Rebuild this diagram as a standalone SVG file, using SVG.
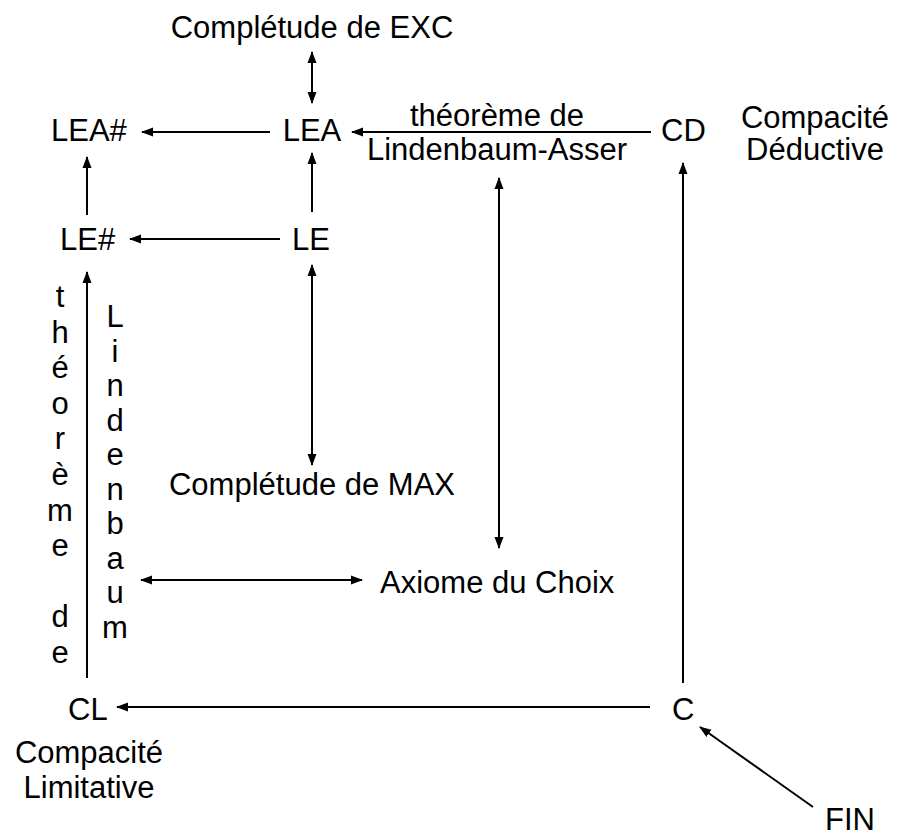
<svg xmlns="http://www.w3.org/2000/svg" width="898" height="836" viewBox="0 0 898 836">
<style>
text{font-family:"Liberation Sans",Arial,sans-serif;font-size:31px;fill:#000}
.m{text-anchor:middle}
.c line{stroke:#000;stroke-width:2}
</style>
<defs>
<marker id="a" markerUnits="userSpaceOnUse" markerWidth="12" markerHeight="10" refX="11" refY="5" orient="auto-start-reverse"><path d="M0,0.5 L12,5 L0,9.5 z" fill="#000"/></marker>
</defs>
<rect width="898" height="836" fill="#fff"/>
<g class="c" id="connectors">
<line x1="312" y1="52" x2="312" y2="103" marker-start="url(#a)" marker-end="url(#a)"/>
<line x1="270" y1="132" x2="142" y2="132" marker-end="url(#a)"/>
<line x1="651" y1="132" x2="352" y2="132" marker-end="url(#a)"/>
<line x1="87" y1="215" x2="87" y2="157" marker-end="url(#a)"/>
<line x1="312" y1="212" x2="312" y2="153" marker-end="url(#a)"/>
<line x1="280" y1="239" x2="130" y2="239" marker-end="url(#a)"/>
<line x1="312" y1="265" x2="312" y2="465" marker-start="url(#a)" marker-end="url(#a)"/>
<line x1="499" y1="178" x2="499" y2="548" marker-start="url(#a)" marker-end="url(#a)"/>
<line x1="683" y1="683" x2="683" y2="163" marker-end="url(#a)"/>
<line x1="87" y1="678" x2="87" y2="272" marker-end="url(#a)"/>
<line x1="141" y1="580" x2="362" y2="580" marker-start="url(#a)" marker-end="url(#a)"/>
<line x1="650" y1="707" x2="117" y2="707" marker-end="url(#a)"/>
<line x1="813" y1="807" x2="700" y2="727" marker-end="url(#a)"/>
</g>
<g id="exc"><text class="m" x="312" y="38">Complétude de EXC</text></g>
<g id="leas"><text x="51" y="141">LEA#</text></g>
<g id="lea"><text class="m" x="312" y="141">LEA</text></g>
<g id="la-label"><text class="m" x="497" y="126">théorème de</text><text class="m" x="497" y="160">Lindenbaum-Asser</text></g>
<g id="cd"><text x="661" y="141">CD</text></g>
<g id="cd-label"><text class="m" x="815" y="128">Compacité</text><text class="m" x="815" y="160">Déductive</text></g>
<g id="les"><text x="60" y="250">LE#</text></g>
<g id="le"><text x="292" y="250">LE</text></g>
<g id="max"><text class="m" x="312" y="495">Complétude de MAX</text></g>
<g id="ac"><text x="380" y="593">Axiome du Choix</text></g>
<g id="cl"><text x="68" y="720">CL</text></g>
<g id="c"><text x="672" y="720">C</text></g>
<g id="cl-label"><text class="m" x="89" y="763">Compacité</text><text class="m" x="89" y="798">Limitative</text></g>
<g id="fin"><text x="825" y="830">FIN</text></g>
<g id="lind-label">
<text class="m" x="60" y="307">t</text>
<text class="m" x="60" y="342.6">h</text>
<text class="m" x="60" y="378.2">é</text>
<text class="m" x="60" y="413.8">o</text>
<text class="m" x="60" y="449.4">r</text>
<text class="m" x="60" y="485">è</text>
<text class="m" x="60" y="520.6">m</text>
<text class="m" x="60" y="556.2">e</text>
<text class="m" x="60" y="627.4">d</text>
<text class="m" x="60" y="663">e</text>
<text class="m" x="115" y="327">L</text>
<text class="m" x="115" y="361.5">i</text>
<text class="m" x="115" y="396">n</text>
<text class="m" x="115" y="430.5">d</text>
<text class="m" x="115" y="465">e</text>
<text class="m" x="115" y="499.5">n</text>
<text class="m" x="115" y="534">b</text>
<text class="m" x="115" y="568.5">a</text>
<text class="m" x="115" y="603">u</text>
<text class="m" x="115" y="637.5">m</text>
</g>
</svg>
